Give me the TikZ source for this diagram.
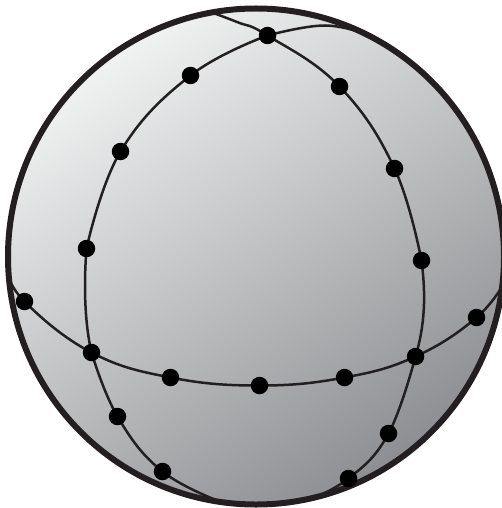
\documentclass[tikz,border=0pt]{standalone}
\definecolor{inka}{HTML}{231F20}
\definecolor{ballhi}{HTML}{F1F2F2}
\definecolor{balllo}{HTML}{8C8E91}
\tikzset{
  dot/.style={circle,fill=black,inner sep=0pt,minimum size=17.5pt},
  gridline/.style={draw=inka,line width=2.5pt},
  rim/.style={draw=inka,line width=6pt}
}
\begin{document}
\begin{tikzpicture}[x=1pt,y=-1pt]
\useasboundingbox (0,0) rectangle (502,508);
\coordinate (c) at (256,256.5);
\path[shading=axis,top color=ballhi,bottom color=balllo,shading angle=35] (c) circle[radius=248];
\foreach \n/\x/\y in {t/267.5/35.5,a1/190.5/75.5,a2/120.5/151.5,a3/86.5/248.5,b1/339.5/86.5,b2/394.5/168.5,b3/421.5/260.5,
  e1/24.5/301.5,m1/91.5/352.5,e2/170.5/377.5,e3/259.5/385.5,e4/344.5/377.5,m2/415.5/356.5,e5/476.5/317.5,
  c1/117.5/416.5,c2/162.5/471.5,d1/388.5/433.5,d2/348.5/478.5}
  \coordinate (\n) at (\x,\y);
\coordinate (tl) at (205,10);
\coordinate (tn) at (237,22);
\coordinate (tr) at (372,36);
\coordinate (tm) at (325,25.5);
\coordinate (el) at (6,268);
\coordinate (er) at (506,280);
\coordinate (bl) at (226,504);
\coordinate (br) at (300,504);
\begin{scope}
\clip (c) circle[radius=248];
\draw[gridline] plot[smooth,tension=0.7] coordinates {(t) (a1) (a2) (a3)};
\draw[gridline] (a3) .. controls (84,280) and (84,320) .. (m1);
\draw[gridline] plot[smooth,tension=0.7] coordinates {(m1) (c1) (c2) (bl)};
\draw[gridline] plot[smooth,tension=0.7] coordinates {(tl) (tn) (t) (b1) (b2) (b3)};
\draw[gridline] (b3) .. controls (426,295) and (425,325) .. (m2);
\draw[gridline] plot[smooth,tension=0.7] coordinates {(m2) (d1) (d2) (br)};
\draw[gridline] plot[smooth,tension=0.7] coordinates {(el) (e1) (m1) (e2) (e3) (e4) (m2) (e5) (er)};
\draw[gridline] plot[smooth,tension=0.7] coordinates {(t) (tm) (tr)};
\end{scope}
\draw[rim] (c) circle[radius=248];
\foreach \n in {t,a1,a2,a3,b1,b2,b3,e1,m1,e2,e3,e4,m2,e5,c1,c2,d1,d2}
  \node[dot] (n\n) at (\n) {};
\end{tikzpicture}
\end{document}
